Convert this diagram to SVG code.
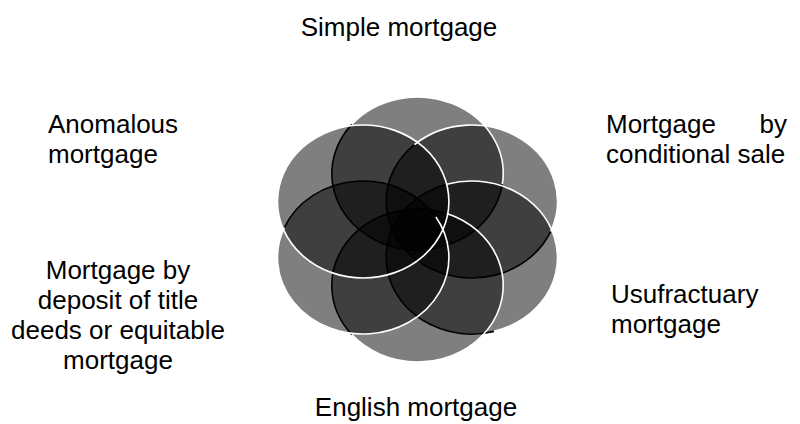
<svg xmlns="http://www.w3.org/2000/svg" width="800" height="424" viewBox="0 0 800 424">
<style>
.c{fill:#000;fill-opacity:0.5;stroke:none}
.lbl{font-family:"Liberation Sans",Arial,sans-serif;font-size:26px;fill:#000}
.bk{fill:none;stroke:#000;stroke-width:1.6}
.wh{fill:none;stroke:#fff;stroke-width:1.6}
</style>
<rect width="800" height="424" fill="#fff"/>
<g id="node-simple">
<ellipse class="c" cx="417.5" cy="173.5" rx="85.7" ry="76.5"/>
<text class="lbl" x="399" y="36" text-anchor="middle">Simple mortgage</text>
</g>
<g id="node-conditional">
<ellipse class="c" cx="471.8" cy="201.5" rx="85.7" ry="76.5"/>
<text class="lbl" x="606" y="133">Mortgage</text>
<text class="lbl" x="787" y="133" text-anchor="end">by</text>
<text class="lbl" x="606" y="163">conditional sale</text>
</g>
<g id="node-usufructuary">
<ellipse class="c" cx="471.8" cy="257.5" rx="85.7" ry="76.5"/>
<text class="lbl" x="611" y="303">Usufractuary</text>
<text class="lbl" x="611" y="333">mortgage</text>
</g>
<g id="node-english">
<ellipse class="c" cx="417.5" cy="285.5" rx="85.7" ry="76.5"/>
<text class="lbl" x="416" y="416" text-anchor="middle">English mortgage</text>
</g>
<g id="node-deposit">
<ellipse class="c" cx="363.2" cy="257.5" rx="85.7" ry="76.5"/>
<text class="lbl" text-anchor="middle"><tspan x="118" y="279">Mortgage by</tspan><tspan x="118" y="309">deposit of title</tspan><tspan x="118" y="339">deeds or equitable</tspan><tspan x="118" y="369">mortgage</tspan></text>
</g>
<g id="node-anomalous">
<ellipse class="c" cx="363.2" cy="201.5" rx="85.7" ry="76.5"/>
<text class="lbl" x="48" y="133">Anomalous</text>
<text class="lbl" x="48" y="163">mortgage</text>
</g>
<g id="connectors">
<path class="bk" d="M351.85 124.33A85.7 76.5 0 1 0 502.37 184.15"/>
<path class="bk" d="M414.46 144.65A85.7 76.5 0 1 0 550.69 231.39"/>
<path class="bk" d="M446.74 184.34A85.7 76.5 0 0 0 493.98 331.39"/>
<path class="bk" d="M446.81 213.61A85.7 76.5 0 0 0 351.85 334.67"/>
<path class="bk" d="M435.87 216.96A85.7 76.5 0 0 0 284.31 227.61"/>
<path class="wh" d="M502.37 184.15A85.7 76.5 0 0 0 351.85 124.33"/>
<path class="wh" d="M550.69 231.39A85.7 76.5 0 0 0 414.46 144.65"/>
<path class="wh" d="M493.98 331.39A85.7 76.5 0 1 0 446.74 184.34"/>
<path class="wh" d="M351.85 334.67A85.7 76.5 0 1 0 446.81 213.61"/>
<path class="wh" d="M284.31 227.61A85.7 76.5 0 1 0 435.87 216.96"/>
<ellipse class="wh" cx="363.2" cy="201.5" rx="85.7" ry="76.5"/>
</g>
</svg>
